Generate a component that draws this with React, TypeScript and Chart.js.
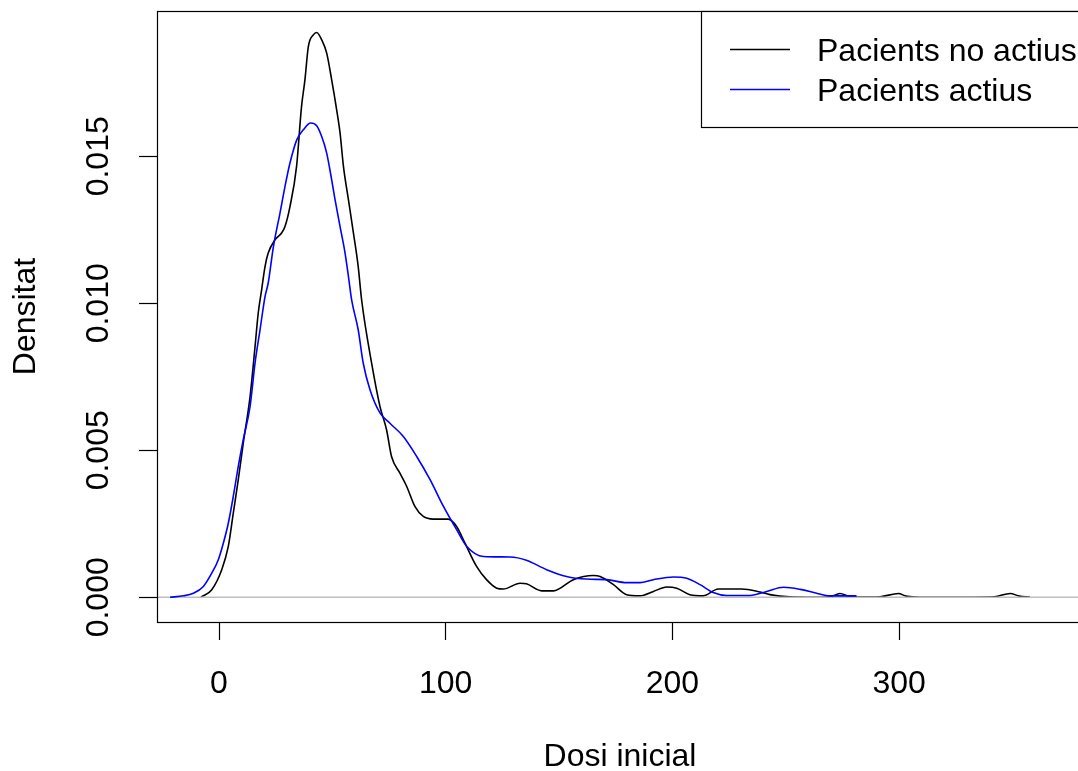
import React, { useEffect, useRef } from "react";
import { Chart, registerables } from "chart.js";

Chart.register(...registerables);

const FONT = '"Liberation Sans", Arial, sans-serif';

// Axis ranges and ticks
const X_MIN = -27.35;
const X_MAX = 381.1;
const Y_MIN = -0.00084;
const Y_MAX = 0.019942;
const xTicks = [0, 100, 200, 300];
const xTickLabels = ["0", "100", "200", "300"];
const yTicks = [0, 0.005, 0.01, 0.015];
const yTickLabels = ["0.000", "0.005", "0.010", "0.015"];
const xTitle = "Dosi inicial";
const yTitle = "Densitat";
const seriesLabels = ["Pacients no actius", "Pacients actius"];

// Pacients no actius (black)
const noActiusX = [
  -8, -3.2, 1.2, 4.1, 6.3, 8.5, 10.7, 13.7, 15.9, 17.3, 18.8, 20.3, 21.7, 24.7,
  27.6, 29.1, 31.3, 34.2, 36.4, 37.9, 39.4, 41.6, 43.1, 45.3, 47.5, 49.7, 51.9,
  53.4, 54.9, 57.1, 59.3, 61.4, 62.9, 67.3, 71, 73.9, 76.1, 79.8, 82.8, 86.4,
  90.1, 94.5, 101.1, 104.8, 108.5, 113.6, 118, 122.5, 125.4, 132.8, 135.6,
  142.3, 147.5, 156.3, 165.1, 168.1, 174, 179.8, 185.7, 191.6, 197.5, 201.9,
  207.7, 213.6, 220.2, 230.5, 238.6, 243, 247.4, 260, 269.5, 273.9, 278, 282.8,
  291.6, 299.7, 303, 307, 320, 342, 349, 353, 357.7,
];
const noActiusY = [
  0, 0.00026, 0.00094, 0.00173, 0.00286, 0.004, 0.00524, 0.00683, 0.00853,
  0.00967, 0.01046, 0.01125, 0.01171, 0.01216, 0.01239, 0.01261, 0.01329,
  0.01465, 0.01669, 0.0176, 0.01873, 0.01913, 0.01921, 0.01896, 0.01851,
  0.0176, 0.01658, 0.01579, 0.01465, 0.01352, 0.01239, 0.01125, 0.01012,
  0.00797, 0.00649, 0.0057, 0.00479, 0.00422, 0.00377, 0.00309, 0.00275,
  0.00266, 0.00266, 0.00241, 0.00184, 0.00105, 0.0006, 0.00031, 0.00028,
  0.00048, 0.00046, 0.00022, 0.00022, 0.0006, 0.00074, 0.00071, 0.00043,
  0.00009, 0.00005, 0.0002, 0.00035, 0.00031, 0.00009, 0.00005, 0.00028,
  0.00028, 0.00018, 0.00009, 0.00004, 0, 0.00002, 0.00013, 0.00003, 0.00001,
  0.00002, 0.00013, 0.00004, 0.00001, 0, 0.00002, 0.00013, 0.00004, 0.00001,
];

// Pacients actius (blue)
const actiusX = [
  -21.6, -15.7, -11.3, -6.9, -3.2, -0.3, 1.9, 4.1, 6.3, 8.5, 10.7, 13.7, 15.9,
  18.1, 20.3, 21.7, 24, 26.9, 29.1, 31.3, 34.3, 37.2, 40.4, 43.1, 45.3, 47.5,
  49.7, 51.2, 53.4, 55.6, 57.1, 58.5, 61.4, 63.6, 66.6, 71, 75.4, 81.3, 87.2,
  93.1, 99, 104.8, 109.3, 116.6, 128.4, 135.6, 144.5, 153.3, 162.1, 171, 179.8,
  185.7, 191.6, 200.4, 206.3, 212.2, 218, 223.9, 234.3, 241.6, 249, 256.4,
  263.6, 269.5, 281.2,
];
const actiusY = [
  0, 0.00005, 0.00014, 0.00037, 0.00082, 0.00128, 0.00184, 0.00252, 0.00343,
  0.00445, 0.00536, 0.00649, 0.00797, 0.0091, 0.01023, 0.01069, 0.01193,
  0.01307, 0.01397, 0.01477, 0.01556, 0.0159, 0.01613, 0.01604, 0.01567,
  0.01511, 0.0142, 0.01352, 0.01261, 0.01171, 0.01091, 0.01012, 0.0091,
  0.00797, 0.00706, 0.00627, 0.00592, 0.00547, 0.00479, 0.004, 0.00309, 0.0023,
  0.00173, 0.00139, 0.00137, 0.00126, 0.00094, 0.00071, 0.00062, 0.0006,
  0.0005, 0.0005, 0.0006, 0.00069, 0.00065, 0.00043, 0.00016, 0.00006, 0.00006,
  0.0002, 0.00034, 0.00027, 0.00014, 0.00005, 0.00005,
];

const zeroLineX = [X_MIN, X_MAX];
const zeroLineY = [0, 0];

const toPoints = (xs: number[], ys: number[]) => xs.map((x, i) => ({ x, y: ys[i] }));

const rPlotPlugin = {
  id: "rPlot",
  afterDraw(chart: any) {
    const { ctx, chartArea: a, scales } = chart;
    const xs = scales.x;
    const ys = scales.y;
    ctx.save();
    // plot box
    ctx.strokeStyle = "#000";
    ctx.lineWidth = 1.2;
    ctx.strokeRect(Math.round(a.left) + 0.5, Math.round(a.top) + 0.5, Math.round(a.right - a.left), Math.round(a.bottom - a.top));

    ctx.fillStyle = "#000";
    ctx.font = `32px ${FONT}`;
    // x tick labels
    ctx.textAlign = "center";
    ctx.textBaseline = "middle";
    xTicks.forEach((v, i) => {
      ctx.fillText(xTickLabels[i], xs.getPixelForValue(v), a.bottom + 62);
    });
    // y tick labels (rotated)
    yTicks.forEach((v, i) => {
      ctx.save();
      ctx.translate(a.left - 58, ys.getPixelForValue(v));
      ctx.rotate(-Math.PI / 2);
      ctx.fillText(yTickLabels[i], 0, 0);
      ctx.restore();
    });
    // axis titles
    ctx.fillText(xTitle, (a.left + a.right) / 2, 757);
    ctx.save();
    ctx.translate(26, (a.top + a.bottom) / 2);
    ctx.rotate(-Math.PI / 2);
    ctx.fillText(yTitle, 0, 0);
    ctx.restore();

    // legend
    const lx = 701;
    const ly = Math.round(a.top);
    ctx.fillStyle = "#fff";
    ctx.fillRect(lx, ly, a.right - lx, 116);
    ctx.strokeStyle = "#000";
    ctx.lineWidth = 1.2;
    ctx.strokeRect(lx + 0.5, ly + 0.5, a.right - lx, 116);
    const rows = [49, 89];
    chart.data.datasets.slice(0, 2).forEach((ds: any, i: number) => {
      ctx.strokeStyle = ds.borderColor;
      ctx.lineWidth = 1.5;
      ctx.beginPath();
      ctx.moveTo(730, rows[i] + 0.5);
      ctx.lineTo(790, rows[i] + 0.5);
      ctx.stroke();
      ctx.fillStyle = "#000";
      ctx.textAlign = "left";
      ctx.textBaseline = "middle";
      ctx.fillText(ds.label, 817, rows[i] + 3);
    });
    ctx.restore();
  },
};

export default function App() {
  const canvasRef = useRef<HTMLCanvasElement | null>(null);

  useEffect(() => {
    const canvas = canvasRef.current;
    if (!canvas) return;
    const chart = new Chart(canvas, {
      type: "line",
      data: {
        datasets: [
          {
            label: seriesLabels[0],
            data: toPoints(noActiusX, noActiusY),
            borderColor: "#000000",
            borderWidth: 1.6,
            pointRadius: 0,
            cubicInterpolationMode: "monotone",
            fill: false,
            order: 3,
          },
          {
            label: seriesLabels[1],
            data: toPoints(actiusX, actiusY),
            borderColor: "#0000ff",
            borderWidth: 1.6,
            pointRadius: 0,
            cubicInterpolationMode: "monotone",
            fill: false,
            order: 1,
          },
          {
            label: "zero",
            data: toPoints(zeroLineX, zeroLineY),
            borderColor: "#bebebe",
            borderWidth: 1.6,
            pointRadius: 0,
            fill: false,
            order: 2,
          },
        ],
      },
      options: {
        responsive: false,
        animation: false,
        devicePixelRatio: 1,
        parsing: true,
        layout: { padding: { left: 0, top: 11, right: 17, bottom: 0 } },
        plugins: {
          legend: { display: false },
          tooltip: { enabled: false },
        },
        scales: {
          x: {
            type: "linear",
            min: X_MIN,
            max: X_MAX,
            afterBuildTicks: (s: any) => {
              s.ticks = xTicks.map((v) => ({ value: v }));
            },
            afterFit: (s: any) => {
              s.height = 149;
            },
            ticks: { display: false },
            border: { display: false },
            grid: {
              drawOnChartArea: false,
              drawTicks: true,
              tickLength: 18,
              tickColor: "#000",
              tickWidth: 1.2,
            },
          },
          y: {
            type: "linear",
            min: Y_MIN,
            max: Y_MAX,
            afterBuildTicks: (s: any) => {
              s.ticks = yTicks.map((v) => ({ value: v }));
            },
            afterFit: (s: any) => {
              s.width = 157;
            },
            ticks: { display: false },
            border: { display: false },
            grid: {
              drawOnChartArea: false,
              drawTicks: true,
              tickLength: 18,
              tickColor: "#000",
              tickWidth: 1.2,
            },
          },
        },
      },
      plugins: [rPlotPlugin],
    });
    return () => chart.destroy();
  }, []);

  return (
    <div
      style={{
        position: "fixed",
        left: 0,
        top: 0,
        width: 1078,
        height: 771,
        overflow: "hidden",
        background: "#fff",
      }}
    >
      <canvas
        ref={canvasRef}
        width={1100}
        height={771}
        style={{ position: "absolute", left: 0, top: 0, width: 1100, height: 771 }}
      />
    </div>
  );
}
